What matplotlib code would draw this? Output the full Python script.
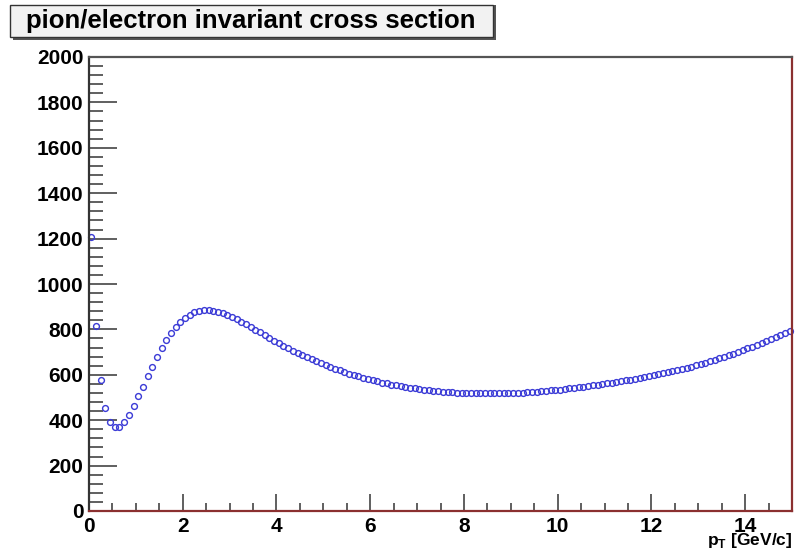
import numpy as np
import matplotlib
matplotlib.use("Agg")
import matplotlib.pyplot as plt
from matplotlib.patches import Rectangle
from matplotlib.ticker import MultipleLocator

# bin centres in pT (GeV/c), 0.1 wide bins from 0 to 15
pt = np.arange(150) * 0.1 + 0.05

ratio = [
    1208, 816, 576, 452, 391, 369, 368, 391, 423, 462,
    507, 548, 593, 636, 678, 717, 752, 783, 810, 833,
    849, 863, 875, 881, 884, 885, 883, 878, 871, 863,
    855, 845, 834, 823, 811, 799, 787, 775, 763, 751,
    740, 729, 718, 707, 697, 687, 677, 668, 659, 650,
    642, 634, 626, 619, 612, 605, 599, 593, 587, 581,
    576, 571, 566, 562, 557, 553, 550, 546, 543, 540,
    537, 534, 532, 530, 528, 526, 524, 523, 522, 521,
    520, 519, 519, 518, 518, 518, 518, 518, 519, 519,
    520, 521, 522, 523, 524, 526, 527, 529, 531, 533,
    535, 537, 540, 542, 545, 547, 550, 553, 556, 559,
    562, 565, 568, 571, 575, 578, 582, 586, 590, 594,
    598, 602, 607, 611, 616, 621, 626, 631, 636, 642,
    648, 654, 660, 666, 673, 679, 686, 693, 700, 708,
    716, 724, 732, 741, 749, 758, 767, 776, 785, 794,
]

title = "pion/electron invariant cross section"
xlabel = "p$_{\\mathbf{T}}$ [GeV/c]"

plt.rcParams['font.family'] = ['Liberation Sans', 'DejaVu Sans']
plt.rcParams['mathtext.fontset'] = 'custom'
plt.rcParams['mathtext.bf'] = 'Liberation Sans:bold'
plt.rcParams['mathtext.rm'] = 'Liberation Sans:bold'

W, H = 796, 556
fig = plt.figure(figsize=(W / 100, H / 100), dpi=100)
ax = fig.add_axes([89 / W, 1 - 511 / H, 703 / W, 454 / H])

ax.plot(pt, ratio, 'o', color='none', markeredgecolor='#3b3bd6',
        markersize=4.2, markeredgewidth=1.0, clip_on=False)

ax.set_xlim(0, 15)
ax.set_ylim(0, 2000)

ax.xaxis.set_major_locator(MultipleLocator(2))
ax.xaxis.set_minor_locator(MultipleLocator(0.5))
ax.yaxis.set_major_locator(MultipleLocator(200))
ax.yaxis.set_minor_locator(MultipleLocator(40))
ax.tick_params(axis='both', which='both', direction='in', top=False, right=False,
               colors='#444444', width=1.2, labelcolor='black')
ax.tick_params(axis='y', which='major', length=20, pad=4, labelsize=15)
ax.tick_params(axis='y', which='minor', length=10)
ax.tick_params(axis='x', which='major', length=12, pad=4, labelsize=15)
ax.tick_params(axis='x', which='minor', length=6)
for lab in ax.get_xticklabels() + ax.get_yticklabels():
    lab.set_fontweight('bold')

ax.spines['left'].set_color('#333333')
ax.spines['top'].set_color('#555555')
ax.spines['bottom'].set_color('#8b3030')
ax.spines['right'].set_color('#8b3030')
for s in ax.spines.values():
    s.set_linewidth(1.6)

fig.text(792 / W, 1 - 540 / H, xlabel, ha='right', va='center',
         fontsize=12.5, fontweight='bold')

# title box with a shadow, ROOT style
fig.add_artist(Rectangle((13 / W, 1 - 40 / H), 483 / W, 35 / H,
                         transform=fig.transFigure, facecolor='#555555',
                         edgecolor='none'))
fig.add_artist(Rectangle((10 / W, 1 - 37 / H), 483 / W, 32 / H,
                         transform=fig.transFigure, facecolor='#f2f2f2',
                         edgecolor='#333333', linewidth=1.0))
fig.text(251 / W, 1 - 21 / H, title, ha='center', va='center',
         fontsize=18.5, fontweight='bold')

fig.savefig("out.png", dpi=100)
